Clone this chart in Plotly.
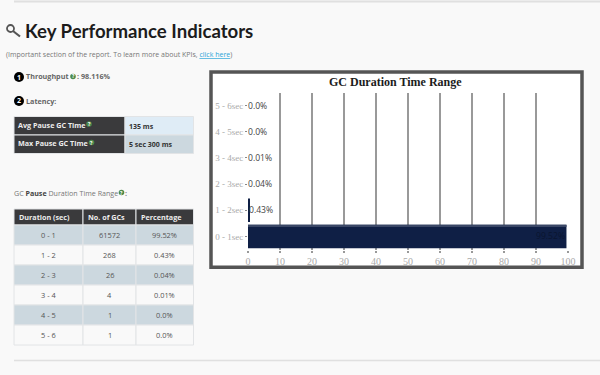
import plotly.graph_objects as go

# ---- data ----
ranges = ["0 - 1sec", "1 - 2sec", "2 - 3sec", "3 - 4sec", "4 - 5sec", "5 - 6sec"]
percent = [99.52, 0.43, 0.04, 0.01, 0.0, 0.0]
percent_labels = ["99.52%", "0.43%", "0.04%", "0.01%", "0.0%", "0.0%"]
x_ticks = [0, 10, 20, 30, 40, 50, 60, 70, 80, 90, 100]

latency_names = ["Avg Pause GC Time", "Max Pause GC Time"]
latency_values = ["135 ms", "5 sec 300 ms"]

table_header = ["Duration (sec)", "No. of GCs", "Percentage"]
table_duration = ["0 - 1", "1 - 2", "2 - 3", "3 - 4", "4 - 5", "5 - 6"]
table_count = ["61572", "268", "26", "4", "1", "1"]
table_percent = ["99.52%", "0.43%", "0.04%", "0.01%", "0.0%", "0.0%"]

W, H = 600, 375
BG = "#f9f9f9"
NAVY = "#0f1f45"
DARK = "#3a3a3c"
BLUE_A = "#dfecf6"
STEEL = "#ccd8df"
ROW_W = "#f9f9f9"
BORDER = "#e2e4e6"
SANS = "Open Sans"
SERIF = "Liberation Serif"


def px(x):
    return x / W


def py(y):
    return 1 - y / H


fig = go.Figure()

fig.add_trace(go.Bar(
    y=ranges, x=percent, orientation="h", width=0.9,
    marker=dict(color=[NAVY, NAVY, "rgba(0,0,0,0)", "rgba(0,0,0,0)", "rgba(0,0,0,0)", "rgba(0,0,0,0)"],
                line=dict(width=0)),
    hoverinfo="skip", showlegend=False,
))

shapes = [
    dict(type="line", xref="paper", yref="paper", x0=px(14), x1=1, y0=py(1.5), y1=py(1.5),
         line=dict(color="#e0e0e0", width=2), layer="below"),
    dict(type="line", xref="paper", yref="paper", x0=px(14), x1=1, y0=py(360.5), y1=py(360.5),
         line=dict(color="#e0e0e0", width=1.5), layer="below"),
    # chart frame
    dict(type="rect", xref="paper", yref="paper", x0=px(211), x1=px(582), y0=py(72), y1=py(267.3),
         fillcolor="white", line=dict(color="#555555", width=3.5), layer="below"),
    # numbered bullets
    dict(type="circle", xref="paper", yref="paper", x0=px(14), x1=px(24), y0=py(72), y1=py(82),
         fillcolor="#000", line=dict(width=0)),
    dict(type="circle", xref="paper", yref="paper", x0=px(14), x1=px(24), y0=py(96), y1=py(106),
         fillcolor="#000", line=dict(width=0)),
    # key icon
    dict(type="circle", xref="paper", yref="paper", x0=px(7), x1=px(14), y0=py(25), y1=py(32),
         line=dict(color="#555", width=1.8)),
    dict(type="line", xref="paper", yref="paper", x0=px(13), x1=px(20), y0=py(31), y1=py(36.5),
         line=dict(color="#555", width=2.2)),
    # lighter strip along the top of the long bar
    dict(type="rect", xref="x", yref="y", x0=0, x1=percent[0], y0=0.36, y1=0.45,
         fillcolor="#3a4766", line=dict(width=0), layer="above"),
]

annots = []


def label(x, y, text, size, color, family=SANS, anchor="left"):
    annots.append(dict(xref="paper", yref="paper", x=px(x), y=py(y), text=text, showarrow=False,
                       xanchor=anchor, yanchor="middle", align=anchor, borderpad=0, borderwidth=0,
                       font=dict(family=family, size=size, color=color)))


def cell(x0, x1, y0, y1, fill):
    shapes.append(dict(type="rect", xref="paper", yref="paper", x0=px(x0), x1=px(x1), y0=py(y0), y1=py(y1),
                       fillcolor=fill, line=dict(color=BORDER, width=1), layer="below"))


def help_icon(cx, cy):
    shapes.append(dict(type="circle", xref="paper", yref="paper",
                       x0=px(cx - 2.8), x1=px(cx + 2.8), y0=py(cy - 2.8), y1=py(cy + 2.8),
                       fillcolor="#4c8a4c", line=dict(width=0), layer="above"))
    label(cx, cy, "<b>?</b>", 5, "white", anchor="center")


# percentage labels beside the bars, placed on the data scale
for i, (r, v, t) in enumerate(zip(ranges, percent, percent_labels)):
    first = i == 0
    annots.append(dict(xref="x", yref="y", x=v, y=r, text=t, showarrow=False, borderpad=0,
                       xanchor="right" if first else "left", yanchor="middle", xshift=0 if first else -1,
                       font=dict(family=SANS, size=8.6, color="#0a1530" if first else "#444")))

# latency table
lat_y = [116.5, 135]
for i, (n, v) in enumerate(zip(latency_names, latency_values)):
    y0, y1 = lat_y[i], lat_y[i] + 18.5
    cell(14, 125, y0, y1, DARK)
    cell(125, 193.5, y0, y1, BLUE_A if i == 0 else STEEL)
    label(18, (y0 + y1) / 2 - 1, "<b>%s</b>" % n, 7.2, "#ededed")
    label(129, (y0 + y1) / 2 + 0.5, "<b>%s</b>" % v, 7, "#333")

# duration table
col_x = [14, 83, 136, 193.5]
for j, h in enumerate(table_header):
    cell(col_x[j], col_x[j + 1], 209, 225, DARK)
    label(col_x[j] + 4.5, 217, "<b>%s</b>" % h, 7.2, "#ededed")
for i in range(6):
    y0 = 225 + i * 20
    fill = STEEL if i % 2 == 0 else ROW_W
    row = [table_duration[i], table_count[i], table_percent[i]]
    for j, t in enumerate(row):
        cell(col_x[j], col_x[j + 1], y0, y0 + 20, fill)
        label((col_x[j] + col_x[j + 1]) / 2, y0 + 10, t, 7.4, "#555", anchor="center")

label(25, 30.5, "<b>Key Performance Indicators</b>", 18.6, "#1c1c1c", "Lato")
label(6, 54, "(Important section of the report. To learn more about KPIs, "
             "<span style='color:#2aa5d8'><u>click here</u></span>)", 7, "#777")
label(26, 76.5, "<b>Throughput</b>", 7.2, "#666")
label(77, 76.5, "<b>: 98.116%</b>", 7.2, "#666")
label(26, 100.5, "<b>Latency:</b>", 7.2, "#666")
label(14, 192.5, "GC <b><span style='color:#444'>Pause</span></b> Duration Time Range", 7.1, "#777")
label(125, 192.5, "<b>:</b>", 7.2, "#777")
for cx, cy in [(73, 76.5), (89, 124), (91.5, 142.5), (121.5, 192.5)]:
    help_icon(cx, cy)
for cy, n in [(77, "1"), (101, "2")]:
    label(19, cy, "<b>%s</b>" % n, 7, "white", anchor="center")
label(395, 82, "<b>GC Duration Time Range</b>", 12, "#1c1c1c", SERIF, anchor="center")

fig.update_layout(
    width=W, height=H, autosize=False,
    margin=dict(l=0, r=0, t=0, b=0, autoexpand=False),
    paper_bgcolor=BG, plot_bgcolor="rgba(0,0,0,0)",
    showlegend=False, shapes=shapes, annotations=annots,
    xaxis=dict(domain=[px(248), px(568)], range=[0, 100], tickvals=x_ticks,
               showgrid=True, gridcolor="#999", gridwidth=1.5, zeroline=False,
               ticks="outside", ticklen=2, tickcolor="#999", tickwidth=1.5,
               tickfont=dict(family=SERIF, size=10, color="#aaa"),
               fixedrange=True),
    yaxis=dict(domain=[py(249.5), py(92.5)], categoryorder="array", categoryarray=ranges,
               showgrid=False, zeroline=False, showline=False, ticks="outside", ticklen=2,
               tickcolor="#888", tickfont=dict(family=SERIF, size=9, color="#aaa"),
               fixedrange=True),
)

fig.write_html("out.html", config=dict(displayModeBar=False),
               post_script="document.body.style.margin='0';document.body.style.background='%s';" % BG)
